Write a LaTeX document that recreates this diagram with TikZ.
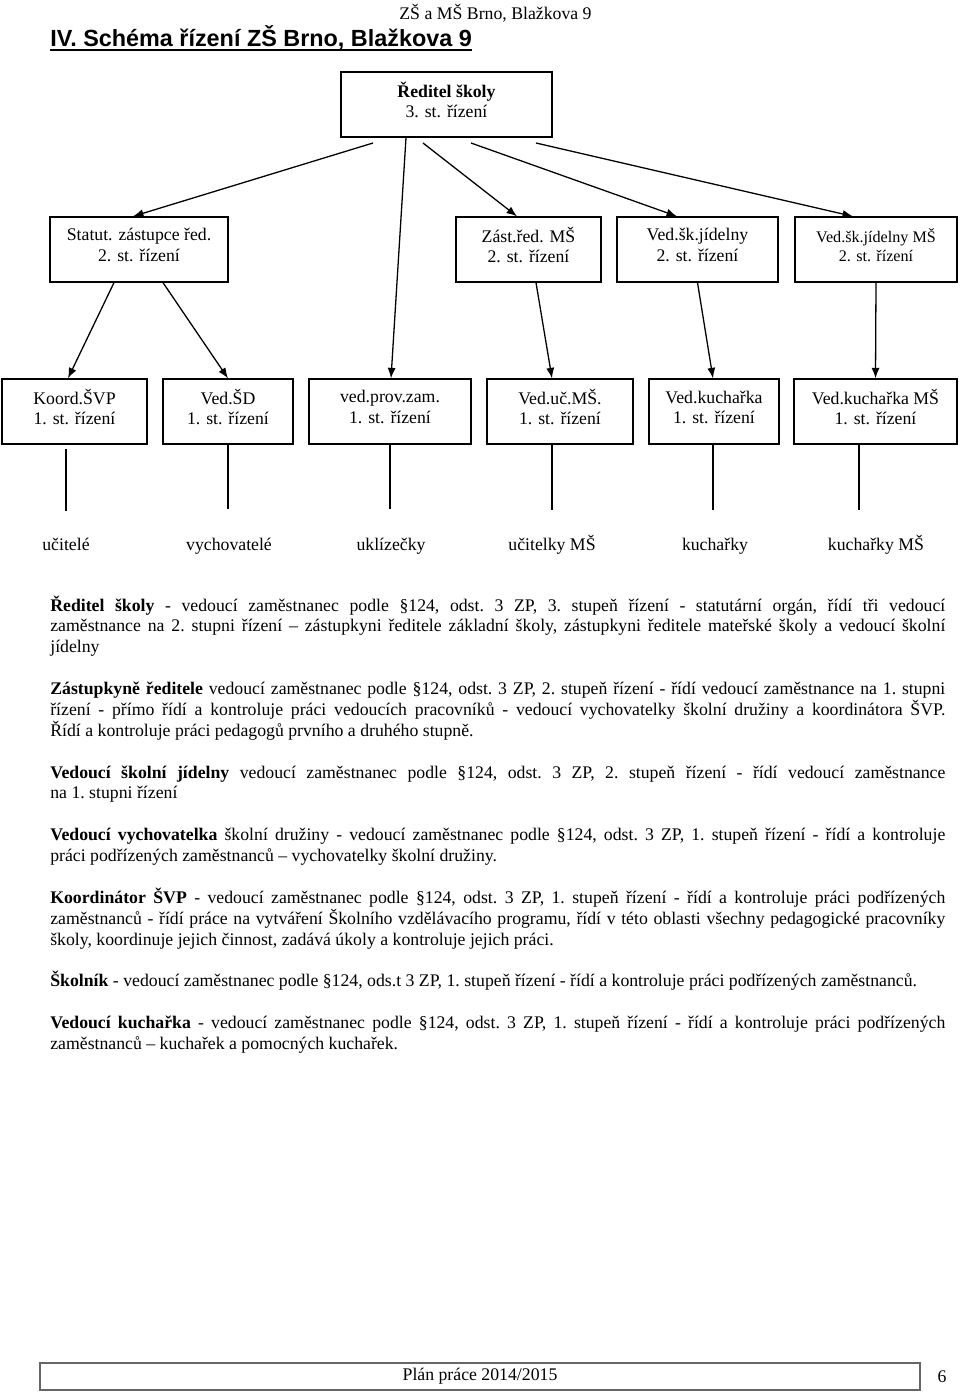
\documentclass[tikz,border=0pt]{standalone}
\usepackage{fontspec}
\setmainfont{Liberation Serif}
\newfontfamily\titlefont{Liberation Sans}
\usetikzlibrary{arrows.meta,calc}

\begin{document}
\begin{tikzpicture}[x=0.62pt,y=0.62pt,yscale=-1,xscale=1,
  box/.style={draw,line width=0.8pt,align=center,inner sep=0pt,minimum height=40.3pt,font=\fontsize{11}{12.6}\selectfont,
    execute at begin node={\rule{0pt}{10pt}},execute at end node={\rule[-5.6pt]{0pt}{6pt}}},
  arr/.style={line width=0.8pt,-{Latex[length=6.5pt,width=5pt]}},
  lin/.style={line width=0.8pt},
  lbl/.style={anchor=base,inner sep=0pt,font=\fontsize{11}{12.7}\selectfont}]
\useasboundingbox (0,0) rectangle (960,1392);

% Text Node
\node[anchor=base,inner sep=0pt,font=\fontsize{11}{13}\selectfont] (hlavicka) at (495.5,19) {ZŠ a MŠ Brno, Blažkova 9};
% Text Node
\node[anchor=base west,inner sep=0pt,font=\titlefont\bfseries\fontsize{14.5}{17}\selectfont] (nadpis) at (50,46) {IV. Schéma řízení ZŠ Brno, Blažkova 9};
\draw[line width=1pt] ($(nadpis.base west)+(0,4)$) -- ($(nadpis.base east)+(0,4)$);

%Shape: Rectangle
\node[box,minimum width=130.8pt] (reditel) at (446.5,104.5) {\textbf{Ředitel školy}\\3. st. řízení};

%Shape: Rectangle
\node[box,minimum width=110.4pt] (statut) at (139,249.5) {Statut. zástupce řed.\\2. st. řízení};
\node[box,minimum width=89.9pt] (zastms) at (528.5,249.5) {Zást.řed. MŠ\\2. st. řízení};
\node[box,minimum width=99.8pt] (jidelna) at (697.5,249.5) {Ved.šk.jídelny\\2. st. řízení};
\node[box,minimum width=100.4pt,font=\fontsize{10}{11.8}\selectfont] (jidelnams) at (876,249.5) {Ved.šk.jídelny MŠ\\2. st. řízení};

%Shape: Rectangle
\node[box,minimum width=89.9pt] (koord) at (74.5,411.5) {Koord.ŠVP\\1. st. řízení};
\node[box,minimum width=80.6pt] (vedsd) at (228,411.5) {Ved.ŠD\\1. st. řízení};
\node[box,minimum width=100.4pt] (provoz) at (390,411.5) {ved.prov.zam.\\1. st. řízení};
\node[box,minimum width=90.5pt] (vedms) at (560,411.5) {Ved.uč.MŠ.\\1. st. řízení};
\node[box,minimum width=80.6pt] (kuch) at (714,411.5) {Ved.kuchařka\\1. st. řízení};
\node[box,minimum width=101.1pt] (kuchms) at (875.5,411.5) {Ved.kuchařka MŠ\\1. st. řízení};

% Text Node
\node[lbl] (ucitele) at (66,550) {učitelé};
\node[lbl] (vychov) at (229,550) {vychovatelé};
\node[lbl] (uklizecky) at (391,550) {uklízečky};
\node[lbl] (ucitelkyms) at (552,550) {učitelky MŠ};
\node[lbl] (kucharky) at (715,550) {kuchařky};
\node[lbl] (kucharkyms) at (876,550) {kuchařky MŠ};

%Straight Lines
\coordinate (s1) at (373,143);
\coordinate (s2) at (423,143);
\coordinate (s3) at (471,143);
\coordinate (s4) at (536,143);
\draw[arr] (s1) -- ($(statut.north)+(-6,0)$);
\draw[arr] (s2) -- ($(zastms.north)+(-11.5,0)$);
\draw[arr] (s3) -- ($(jidelna.north)+(-20.5,0)$);
\draw[arr] (s4) -- ($(jidelnams.north)+(-23,0)$);
\draw[arr] ($(reditel.south)+(-40.5,0)$) -- ($(provoz.north)+(1,0)$);

%Straight Lines
\draw[arr] ($(statut.south)+(-25,0)$) -- ($(koord.north)+(-6.5,0)$);
\draw[arr] ($(statut.south)+(24,0)$) -- (vedsd.north);
\draw[arr] ($(zastms.south)+(7.5,0)$) -- ($(vedms.north)+(-8,0)$);
\draw[arr] (jidelna.south) -- ($(kuch.north)+(-1,0)$);
\draw[arr] (jidelnams.south) -- (kuchms.north);

%Straight Lines
\coordinate (f1) at (66,511);
\coordinate (f2) at (228,509);
\coordinate (f3) at (390,509);
\coordinate (f4) at (552,510);
\coordinate (f5) at (713,510);
\coordinate (f6) at (859,510);
\draw[lin] ($(koord.south -| f1)+(0,4)$) -- (f1);
\draw[lin] (vedsd.south -| f2) -- (f2);
\draw[lin] (provoz.south -| f3) -- (f3);
\draw[lin] (vedms.south -| f4) -- (f4);
\draw[lin] (kuch.south -| f5) -- (f5);
\draw[lin] (kuchms.south -| f6) -- (f6);

% Text Node
\node[anchor=base west,inner sep=0pt,text width=554.9pt,align=justify,font=\fontsize{11}{12.95}\selectfont] (popis) at (50,611) {\setlength{\parskip}{12.95pt}\frenchspacing\hyphenpenalty=10000\exhyphenpenalty=10000%
\textbf{Ředitel školy} - vedoucí zaměstnanec podle §124, odst. 3 ZP, 3. stupeň řízení - statutární orgán, řídí tři vedoucí\linebreak
zaměstnance na 2. stupni řízení – zástupkyni ředitele základní školy, zástupkyni ředitele mateřské školy a vedoucí školní\linebreak
jídelny\par
\textbf{Zástupkyně ředitele} vedoucí zaměstnanec podle §124, odst. 3 ZP, 2. stupeň řízení - řídí vedoucí zaměstnance na 1. stupni\linebreak
řízení - přímo řídí a kontroluje práci vedoucích pracovníků - vedoucí vychovatelky školní družiny a koordinátora ŠVP.\linebreak
Řídí a kontroluje práci pedagogů prvního a druhého stupně.\par
\textbf{Vedoucí školní jídelny} vedoucí zaměstnanec podle §124, odst. 3 ZP, 2. stupeň řízení - řídí vedoucí zaměstnance\linebreak
na 1. stupni řízení\par
\textbf{Vedoucí vychovatelka} školní družiny - vedoucí zaměstnanec podle §124, odst. 3 ZP, 1. stupeň řízení - řídí a kontroluje\linebreak
práci podřízených zaměstnanců – vychovatelky školní družiny.\par
\textbf{Koordinátor ŠVP} - vedoucí zaměstnanec podle §124, odst. 3 ZP, 1. stupeň řízení - řídí a kontroluje práci podřízených\linebreak
zaměstnanců - řídí práce na vytváření Školního vzdělávacího programu, řídí v této oblasti všechny pedagogické pracovníky\linebreak
školy, koordinuje jejich činnost, zadává úkoly a kontroluje jejich práci.\par
\textbf{Školník} - vedoucí zaměstnanec podle §124, ods.t 3 ZP, 1. stupeň řízení - řídí a kontroluje práci podřízených zaměstnanců.\par
\textbf{Vedoucí kuchařka} - vedoucí zaměstnanec podle §124, odst. 3 ZP, 1. stupeň řízení - řídí a kontroluje práci podřízených\linebreak
zaměstnanců – kuchařek a pomocných kuchařek.};

%Shape: Rectangle
\node[draw=black!60,line width=1.2pt,minimum width=545.6pt,minimum height=16.7pt,inner sep=0pt,font=\fontsize{11}{13}\selectfont] (paticka) at (480,1376.5) {Plán práce 2014/2015};
% Text Node
\node[inner sep=0pt,font=\fontsize{11}{13}\selectfont] (strana) at (942,1376.5) {6};

\end{tikzpicture}
\end{document}
